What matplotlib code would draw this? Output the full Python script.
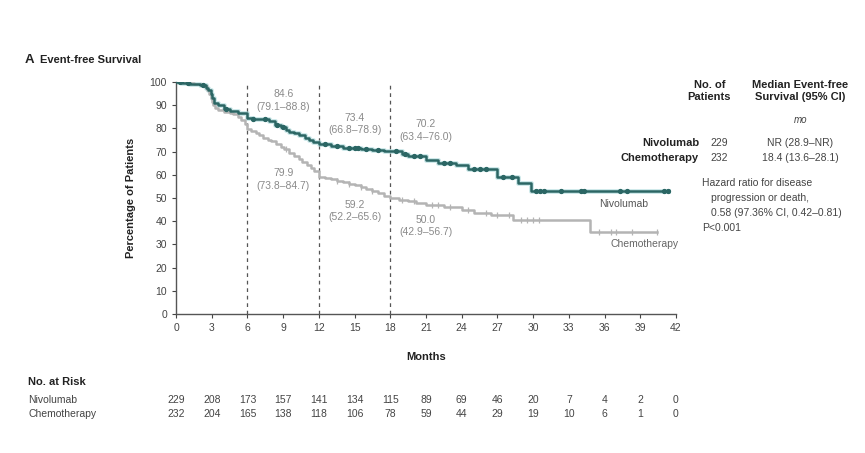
import numpy as np
import matplotlib
matplotlib.use("Agg")
import matplotlib.pyplot as plt

plt.rcParams['font.family'] = ['Liberation Sans Narrow', 'Liberation Sans', 'DejaVu Sans']

# step curves (time in months, % event-free)
niv_t = [0, 0.5, 1.2, 2.0, 2.5, 2.7, 2.9, 3.0, 3.2, 3.5, 4.0, 4.5, 5.2, 6.0, 6.5, 7.2,
         7.8, 8.3, 8.8, 9.2, 9.5, 9.9, 10.3, 10.8, 11.2, 11.5, 12.0, 13.0, 14.0, 15.5,
         16.5, 17.5, 19.0, 19.5, 21.0, 22.0, 23.5, 24.5, 27.0, 28.7, 29.8, 41.3]
niv_s = [100, 99.6, 99.1, 98.7, 97.5, 96.5, 95, 93, 91, 90, 88.5, 87.5, 86.5, 84.6,
         84.2, 84.0, 83, 81.5, 80.5, 79.5, 78.5, 77.8, 77, 75.8, 75, 74, 73.4, 72.5,
         71.5, 71.0, 70.5, 70.2, 69.0, 68.0, 66.5, 65.0, 64, 62.5, 59, 56.5, 52.8, 52.8]
niv_cens = [0.3, 1.0, 2.3, 4.2, 6.5, 7.5, 8.5, 9.0, 12.5, 13.5, 14.5, 15.0, 15.3, 16.0,
            17.0, 18.5, 19.2, 20.0, 20.5, 22.5, 23.0, 25.0, 25.5, 26.0, 27.5, 28.2,
            30.2, 30.6, 30.9, 32.3, 34.0, 34.3, 37.3, 37.9, 41.0, 41.3]

chemo_t = [0, 0.8, 1.5, 2.2, 2.6, 2.8, 2.9, 3.0, 3.1, 3.3, 3.5, 4.0, 4.5, 4.8, 5.2, 5.5,
           5.8, 6.0, 6.3, 6.7, 7.0, 7.3, 7.7, 8.0, 8.4, 8.8, 9.1, 9.5, 9.9, 10.3, 10.6,
           11.0, 11.3, 11.6, 12.0, 12.5, 13.0, 13.5, 14.0, 14.5, 15.0, 15.5, 16.0, 16.5,
           17.0, 17.5, 18.0, 18.7, 19.5, 20.2, 21.0, 22.5, 24.0, 25.0, 26.5, 28.3, 34.8,
           40.4]
chemo_s = [100, 99.5, 99, 98.3, 96.5, 95, 93, 91.5, 90, 89, 88, 87, 86.5, 86, 85, 83.5,
           82, 79.9, 79, 78, 77, 76, 75.2, 74.5, 73.3, 72, 71, 69.5, 68.3, 67, 65.5, 64,
           62.8, 61.5, 59.2, 58.7, 58, 57.5, 57, 56.2, 55.5, 54.8, 54, 53, 52, 51, 50.0,
           49.3, 48.5, 47.8, 47, 46, 45, 43.5, 42.5, 40.5, 35.5, 35.5]
chemo_cens = [9.2, 13.5, 14.5, 15.5, 16.5, 19.0, 20.0, 21.5, 22.0, 23.0, 24.5, 26.0,
              27.0, 28.0, 29.0, 29.5, 30.0, 30.5, 35.5, 36.5, 37.0, 38.3, 40.4]

# landmark estimates
land_t = [6, 12, 18]
niv_land = ["84.6\n(79.1\u201388.8)", "73.4\n(66.8\u201378.9)", "70.2\n(63.4\u201376.0)"]
chemo_land = ["79.9\n(73.8\u201384.7)", "59.2\n(52.2\u201365.6)", "50.0\n(42.9\u201356.7)"]

xticks = list(range(0, 43, 3))
risk_niv = [229, 208, 173, 157, 141, 134, 115, 89, 69, 46, 20, 7, 4, 2, 0]
risk_chemo = [232, 204, 165, 138, 118, 106, 78, 59, 44, 29, 19, 10, 6, 1, 0]

niv_col = '#2b6664'
chemo_col = '#b4b4b4'
txt_gray = '#8a8a8a'

def surv_at(t, ts, ss):
    i = np.searchsorted(ts, t, side='right') - 1
    return ss[i]

fig = plt.figure(figsize=(8.65, 4.53), dpi=100)
ax = fig.add_axes([0.2035, 0.307, 0.578, 0.512])

# curves
ax.step(niv_t, niv_s, where='post', color='#a8d8da', lw=3.6, alpha=0.55, zorder=2)
ax.step(niv_t, niv_s, where='post', color=niv_col, lw=1.8, zorder=3)
ax.step(chemo_t, chemo_s, where='post', color=chemo_col, lw=1.8, zorder=2)
ax.plot(niv_cens, [surv_at(t, niv_t, niv_s) for t in niv_cens], 'o', ms=2.8,
        color=niv_col, zorder=4)
ax.plot(chemo_cens, [surv_at(t, chemo_t, chemo_s) for t in chemo_cens], '|', ms=4,
        mew=0.9, color=chemo_col, zorder=3)

for t in land_t:
    ax.plot([t, t], [0, 100], ls=(0, (3, 3)), color='#555555', lw=0.9, zorder=1)

# landmark labels
niv_y = [92, 82, 79]
chemo_y = [58, 44.5, 38]
for t, s, y in zip(land_t, niv_land, niv_y):
    ax.text(t + 3, y, s, ha='center', va='center', fontsize=7.5, color=txt_gray,
            linespacing=1.3)
for t, s, y in zip(land_t, chemo_land, chemo_y):
    ax.text(t + 3, y, s, ha='center', va='center', fontsize=7.5, color=txt_gray,
            linespacing=1.3)

ax.text(37.6, 47.5, "Nivolumab", ha='center', va='center', fontsize=7.5, color='#555555')
ax.text(39.4, 30, "Chemotherapy", ha='center', va='center', fontsize=7.5, color='#666666')

ax.set_xlim(0, 42)
ax.set_ylim(0, 100)
ax.set_xticks(xticks)
ax.set_yticks(range(0, 101, 10))
ax.tick_params(labelsize=7.5, colors='#444444', length=3, width=0.8)
for sp in ['top', 'right']:
    ax.spines[sp].set_visible(False)
for sp in ['left', 'bottom']:
    ax.spines[sp].set_color('#555555')
    ax.spines[sp].set_linewidth(1.0)
ax.set_xlabel("Months", fontsize=8, fontweight='bold', color='#222222', labelpad=14)
ax.set_ylabel("Percentage of Patients", fontsize=8, fontweight='bold', color='#222222',
              labelpad=10)

# number at risk table
ax.text(-12.4, -0.295, "No. at Risk", transform=ax.get_xaxis_transform(), fontsize=8,
        fontweight='bold', color='#222222', va='center', clip_on=False)
ax.text(-12.4, -0.37, "Nivolumab", transform=ax.get_xaxis_transform(), fontsize=7.5,
        color='#444444', va='center', clip_on=False)
ax.text(-12.4, -0.432, "Chemotherapy", transform=ax.get_xaxis_transform(), fontsize=7.5,
        color='#444444', va='center', clip_on=False)
for x, a, b in zip(xticks, risk_niv, risk_chemo):
    ax.text(x, -0.37, str(a), transform=ax.get_xaxis_transform(), fontsize=7.5,
            color='#444444', ha='center', va='center', clip_on=False)
    ax.text(x, -0.432, str(b), transform=ax.get_xaxis_transform(), fontsize=7.5,
            color='#444444', ha='center', va='center', clip_on=False)

# title
fig.text(0.029, 0.868, "A", fontsize=9.5, fontweight='bold', color='#222222', va='center')
fig.text(0.046, 0.868, "Event-free Survival", fontsize=8, fontweight='bold',
         color='#222222', va='center')

# right-hand summary
fig.text(0.82, 0.80, "No. of\nPatients", fontsize=8, fontweight='bold', color='#222222',
         ha='center', va='center', linespacing=1.25)
fig.text(0.925, 0.80, "Median Event-free\nSurvival (95% CI)", fontsize=8,
         fontweight='bold', color='#222222', ha='center', va='center', linespacing=1.25)
fig.text(0.925, 0.735, "mo", fontsize=7, style='italic', color='#444444', ha='center',
         va='center')
fig.text(0.808, 0.685, "Nivolumab", fontsize=8, fontweight='bold', color='#222222',
         ha='right', va='center')
fig.text(0.808, 0.652, "Chemotherapy", fontsize=8, fontweight='bold', color='#222222',
         ha='right', va='center')
fig.text(0.832, 0.685, "229", fontsize=7.5, color='#444444', ha='center', va='center')
fig.text(0.832, 0.652, "232", fontsize=7.5, color='#444444', ha='center', va='center')
fig.text(0.925, 0.685, "NR (28.9\u2013NR)", fontsize=7.5, color='#444444', ha='center',
         va='center')
fig.text(0.925, 0.652, "18.4 (13.6\u201328.1)", fontsize=7.5, color='#444444',
         ha='center', va='center')
fig.text(0.812, 0.596, "Hazard ratio for disease", fontsize=7.5, color='#444444',
         va='center')
fig.text(0.822, 0.563, "progression or death,", fontsize=7.5, color='#444444',
         va='center')
fig.text(0.822, 0.530, "0.58 (97.36% CI, 0.42\u20130.81)", fontsize=7.5, color='#444444',
         va='center')
fig.text(0.812, 0.497, "P<0.001", fontsize=7.5, color='#444444', va='center')

fig.savefig("out.png", dpi=100)
